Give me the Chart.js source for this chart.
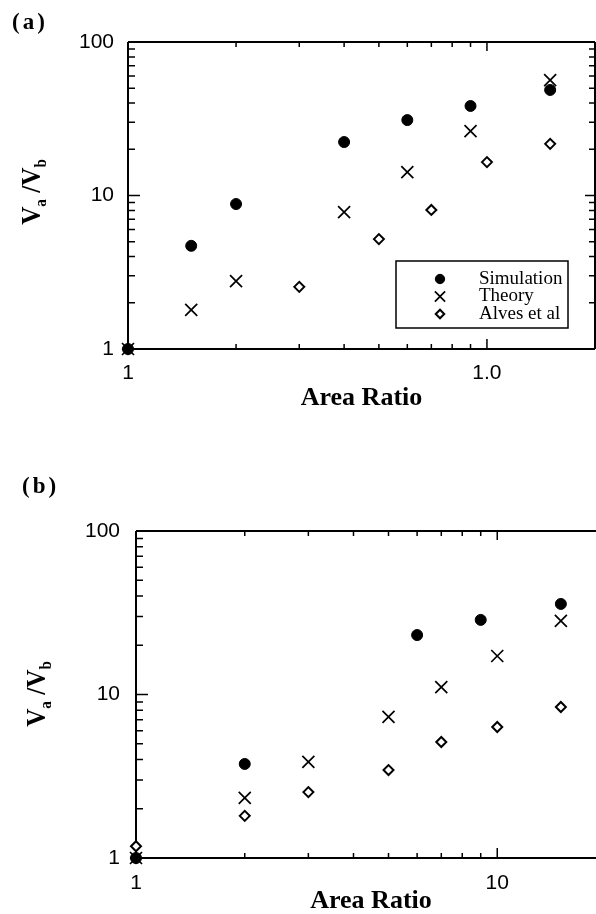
<!DOCTYPE html>
<html>
<head>
<meta charset="utf-8">
<script src="https://cdn.jsdelivr.net/npm/chart.js@4.4.0/dist/chart.umd.min.js"></script>
<style>
  html, body { margin: 0; padding: 0; background: #fff; overflow: hidden; width: 596px; height: 914px; }
  #wrap { position: relative; width: 596px; height: 914px; overflow: hidden; background: #fff; }
  canvas { position: absolute; left: 0; }
  #chartA { top: 0; }
  #chartB { top: 450px; }
  .panel { position: absolute; font: bold 23px "Liberation Serif", "Times New Roman", serif; letter-spacing: 3px; line-height: 1; color: #000; }
  .ytitle { position: absolute; font: bold 28px "Liberation Serif", "Times New Roman", serif; white-space: nowrap; line-height: 1; color: #000;
            transform: translate(-50%, -50%) rotate(-90deg) scaleX(0.9); }
  .ytitle sub { font-size: 60%; vertical-align: -0.35em; }
</style>
</head>
<body>
<div id="wrap">
  <canvas id="chartA" width="596" height="440"></canvas>
  <canvas id="chartB" width="610" height="464"></canvas>
  <div class="panel" style="left:12px; top:10px;">(a)</div>
  <div class="panel" style="left:22px; top:474px;">(b)</div>
  <div class="ytitle" style="left:33px; top:192px;">V<sub>a</sub> /V<sub>b</sub></div>
  <div class="ytitle" style="left:38px; top:694px;">V<sub>a</sub> /V<sub>b</sub></div>
</div>
<script>
// ---- Panel (a): velocity ratio against area ratio ----
const simAreaA    = [1, 1.5, 2, 4, 6, 9, 15];
const simValuesA  = [1, 4.7, 8.8, 22.3, 31, 38.3, 48.7];
const theoAreaA   = [1, 1.5, 2, 4, 6, 9, 15];
const theoValuesA = [1, 1.8, 2.77, 7.8, 14.2, 26.3, 56.5];
const alvesAreaA  = [1, 3, 5, 7, 10, 15];
const alvesValuesA = [1, 2.54, 5.2, 8.05, 16.5, 21.7];

// ---- Panel (b) ----
const simAreaB    = [1, 2, 6, 9, 15];
const simValuesB  = [1, 3.76, 23.1, 28.6, 35.8];
const theoAreaB   = [1, 2, 3, 5, 7, 10, 15];
const theoValuesB = [1, 2.33, 3.87, 7.3, 11.1, 17.2, 28.2];
const alvesAreaB  = [1, 1, 2, 3, 5, 7, 10, 15];
const alvesValuesB = [1, 1.18, 1.81, 2.53, 3.45, 5.12, 6.33, 8.39];

// ---- Axis ticks and labels ----
const xTickValues  = [1, 10];
const xTickLabelsA = ['1', '1.0'];
const xTickLabelsB = ['1', '10'];
const yTickValues  = [1, 10, 100];
const yTickLabels  = ['1', '10', '100'];
const xMinorTicks  = [2, 3, 4, 5, 6, 7, 8, 9];
const xMajorTicks  = [10];
const yMinorTicks  = [2, 3, 4, 5, 6, 7, 8, 9, 20, 30, 40, 50, 60, 70, 80, 90];
const yMajorTicks  = [10];
const seriesNames  = ['Simulation', 'Theory', 'Alves et al'];

const TICK_FONT  = { family: '"Liberation Sans", Arial, sans-serif', size: 21 };
const TITLE_FONT = { family: '"Liberation Serif", "Times New Roman", serif', size: 26, weight: 'bold', lineHeight: 1 };

const toPoints = (xs, ys) => xs.map((x, i) => ({ x, y: ys[i] }));
const labelFor = (values, labels) => v => {
  const i = values.findIndex(t => Math.abs(t - v) < 1e-9);
  return i < 0 ? '' : labels[i];
};
const noPadding = s => { s.paddingLeft = 0; s.paddingRight = 0; s.paddingTop = 0; s.paddingBottom = 0; };

function makeDatasets(simX, simY, theoX, theoY, alvX, alvY) {
  return [
    { label: seriesNames[0], data: toPoints(simX, simY), clip: false,
      pointStyle: 'circle', pointRadius: 5.5, pointBorderWidth: 1,
      pointBackgroundColor: '#000', pointBorderColor: '#000' },
    { label: seriesNames[1], data: toPoints(theoX, theoY), clip: false,
      pointStyle: 'crossRot', pointRadius: 8.5, pointBorderWidth: 1.7,
      pointBackgroundColor: '#000', pointBorderColor: '#000' },
    { label: seriesNames[2], data: toPoints(alvX, alvY), clip: false,
      pointStyle: 'rectRot', pointRadius: 5, pointBorderWidth: 2,
      pointBackgroundColor: '#fff', pointBorderColor: '#000' }
  ];
}

// Box frame with inward-pointing log ticks on every drawn side
const frameTicks = {
  id: 'frameTicks',
  beforeDatasetsDraw(chart, args, o) {
    const { ctx, chartArea: a, scales: { x, y } } = chart;
    ctx.save();
    ctx.strokeStyle = '#000';
    ctx.lineWidth = o.lineWidth;
    ctx.beginPath();
    ctx.moveTo(a.left, a.top); ctx.lineTo(a.left, a.bottom); ctx.lineTo(a.right, a.bottom);
    ctx.moveTo(a.left, a.top); ctx.lineTo(a.right, a.top);
    if (o.rightSide) { ctx.moveTo(a.right, a.top); ctx.lineTo(a.right, a.bottom); }
    ctx.stroke();

    ctx.lineWidth = o.tickWidth;
    ctx.beginPath();
    const xTick = (v, lenB, lenT) => {
      const px = x.getPixelForValue(v);
      if (px > a.right) return;
      ctx.moveTo(px, a.bottom); ctx.lineTo(px, a.bottom - lenB);
      ctx.moveTo(px, a.top); ctx.lineTo(px, a.top + lenT);
    };
    const yTick = (v, lenL, lenR) => {
      const py = y.getPixelForValue(v);
      ctx.moveTo(a.left, py); ctx.lineTo(a.left + lenL, py);
      if (o.rightSide) { ctx.moveTo(a.right, py); ctx.lineTo(a.right - lenR, py); }
    };
    xMinorTicks.forEach(v => xTick(v, 5, 5));
    xMajorTicks.forEach(v => xTick(v, 10, 9));
    yMinorTicks.forEach(v => yTick(v, 7, 6));
    yMajorTicks.forEach(v => yTick(v, 12, 10));
    ctx.stroke();
    ctx.restore();
  }
};

// Boxed key placed inside the lower right of the plot
const boxLegend = {
  id: 'boxLegend',
  afterDatasetsDraw(chart, args, o) {
    const { ctx, chartArea: a } = chart;
    const L = a.right - o.right - o.width;
    const T = a.bottom - o.bottom - o.height;
    ctx.save();
    ctx.fillStyle = '#fff';
    ctx.fillRect(L, T, o.width, o.height);
    ctx.strokeStyle = '#000';
    ctx.lineWidth = 1.5;
    ctx.strokeRect(L, T, o.width, o.height);
    ctx.font = o.font;
    ctx.textBaseline = 'middle';
    ctx.textAlign = 'left';
    chart.data.datasets.forEach((d, i) => {
      const yy = T + o.firstRow + i * o.rowGap;
      ctx.fillStyle = d.pointBackgroundColor;
      ctx.strokeStyle = d.pointBorderColor;
      ctx.lineWidth = d.pointBorderWidth;
      Chart.helpers.drawPoint(ctx, {
        pointStyle: d.pointStyle, radius: d.pointRadius * 0.85, rotation: 0, borderWidth: d.pointBorderWidth
      }, L + o.markerX, yy);
      ctx.fillStyle = '#000';
      ctx.fillText(d.label, L + o.textX, yy);
    });
    ctx.restore();
  }
};

function buildChart(id, datasets, cfg) {
  return new Chart(document.getElementById(id), {
    type: 'scatter',
    data: { datasets },
    options: {
      responsive: false,
      animation: false,
      devicePixelRatio: 1,
      layout: { autoPadding: false, padding: { top: cfg.padTop, right: cfg.padRight, left: 0, bottom: 0 } },
      plugins: {
        legend: { display: false },
        tooltip: { enabled: false },
        frameTicks: { lineWidth: 2, tickWidth: 1.5, rightSide: cfg.rightSide },
        boxLegend: cfg.legend
      },
      scales: {
        x: {
          type: 'logarithmic', min: 1, max: 20, position: 'bottom',
          grid: { display: false, drawTicks: false },
          border: { display: false },
          ticks: { autoSkip: false, maxRotation: 0, padding: cfg.xTickPad, color: '#000',
                   font: TICK_FONT, callback: labelFor(xTickValues, cfg.xLabels) },
          title: { display: true, text: 'Area Ratio', color: '#000', font: TITLE_FONT,
                   padding: { top: 0, bottom: cfg.titlePad } },
          afterFit: s => { s.height = cfg.xAxisH; noPadding(s); }
        },
        y: {
          type: 'logarithmic', min: 1, max: 100, position: 'left',
          grid: { display: false, drawTicks: false },
          border: { display: false },
          ticks: { autoSkip: false, padding: cfg.yTickPad, color: '#000',
                   font: TICK_FONT, callback: labelFor(yTickValues, yTickLabels) },
          afterFit: s => { s.width = cfg.yAxisW; noPadding(s); }
        }
      }
    },
    plugins: [frameTicks, boxLegend]
  });
}

buildChart('chartA',
  makeDatasets(simAreaA, simValuesA, theoAreaA, theoValuesA, alvesAreaA, alvesValuesA),
  { padTop: 42, padRight: 1, yAxisW: 128, xAxisH: 91, xTickPad: 12, yTickPad: 14,
    titlePad: 29, xLabels: xTickLabelsA, rightSide: true,
    legend: { right: 27, bottom: 21, width: 172, height: 67, firstRow: 18, rowGap: 17.5,
              markerX: 44, textX: 83, font: '19px "Liberation Serif", "Times New Roman", serif' } });

buildChart('chartB',
  makeDatasets(simAreaB, simValuesB, theoAreaB, theoValuesB, alvesAreaB, alvesValuesB),
  { padTop: 81, padRight: 4, yAxisW: 136, xAxisH: 56, xTickPad: 13, yTickPad: 16,
    titlePad: 0, xLabels: xTickLabelsB, rightSide: false, legend: false });
</script>
</body>
</html>
